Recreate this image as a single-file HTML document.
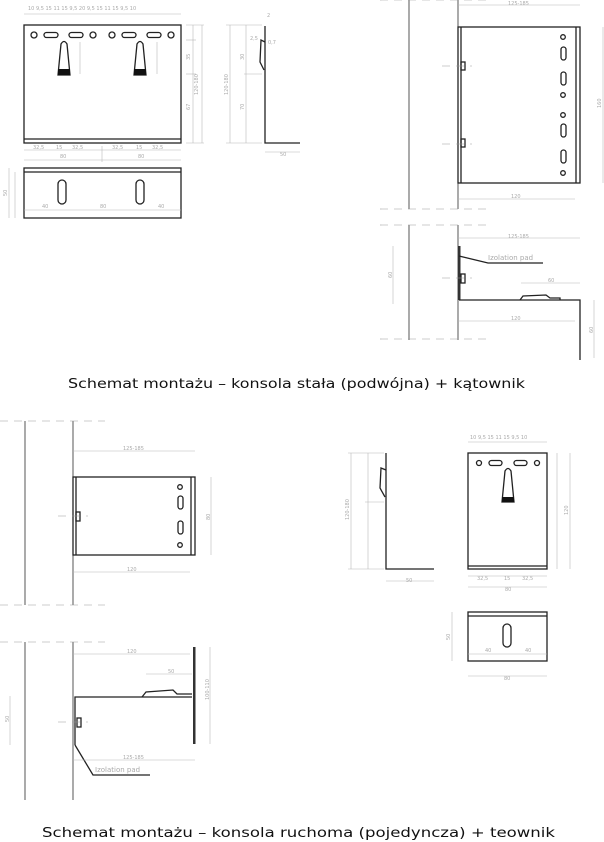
<!DOCTYPE html>
<html><head><meta charset="utf-8"><style>
html,body{margin:0;padding:0;background:#fff;}
svg{display:block;}
.d{stroke:#b8b8b8;stroke-width:0.6;fill:none}
.t{font-family:"DejaVu Sans","Liberation Sans",sans-serif;font-size:5px;fill:#aaa}
.k{stroke:#222;fill:none;stroke-width:1.3}
.w{stroke:#444;stroke-width:0.9;fill:none}
.dash{stroke:#999;stroke-width:0.6;stroke-dasharray:8,6;fill:none}
.title{font-family:"DejaVu Sans","Liberation Sans",sans-serif;font-size:13px;fill:#111}
</style></head><body>
<svg width="604" height="842" viewBox="0 0 604 842" xmlns="http://www.w3.org/2000/svg">
<!-- ===== TOP LEFT front view ===== -->
<g>
<rect x="24" y="25" width="157" height="118" class="k"/>
<line x1="24" y1="139" x2="181" y2="139" class="k" stroke-width="0.8"/>
<circle cx="34" cy="35" r="3" class="k" stroke-width="1"/>
<rect x="44" y="32.5" width="14" height="5" rx="2.5" class="k" stroke-width="1"/>
<rect x="69" y="32.5" width="14" height="5" rx="2.5" class="k" stroke-width="1"/>
<circle cx="93" cy="35" r="3" class="k" stroke-width="1"/>
<circle cx="112" cy="35" r="3" class="k" stroke-width="1"/>
<rect x="122" y="32.5" width="14" height="5" rx="2.5" class="k" stroke-width="1"/>
<rect x="147" y="32.5" width="14" height="5" rx="2.5" class="k" stroke-width="1"/>
<circle cx="171" cy="35" r="3" class="k" stroke-width="1"/>
<path d="M58 75 L61 44 Q64 39 67 44 L70 75 Z" class="k" stroke-width="1.1"/>
<rect x="58" y="69" width="12" height="6" fill="#111"/>
<path d="M134 75 L137 44 Q140 39 143 44 L146 75 Z" class="k" stroke-width="1.1"/>
<rect x="134" y="69" width="12" height="6" fill="#111"/>
<!-- dims top -->
<line x1="24" y1="14" x2="181" y2="14" class="d"/>
<text x="28" y="10" class="t">10  9,5  15   11   15  9,5   20   9,5  15   11   15  9,5 10</text>
<line x1="24" y1="150" x2="181" y2="150" class="d"/>
<line x1="24" y1="160" x2="181" y2="160" class="d"/>
<line x1="102" y1="146" x2="102" y2="162" class="d"/>
<text x="33" y="149" class="t">32,5</text><text x="56" y="149" class="t">15</text><text x="72" y="149" class="t">32,5</text>
<text x="112" y="149" class="t">32,5</text><text x="136" y="149" class="t">15</text><text x="152" y="149" class="t">32,5</text>
<text x="60" y="158" class="t">80</text><text x="138" y="158" class="t">80</text>
<line x1="193" y1="25" x2="193" y2="143" class="d"/>
<line x1="202" y1="25" x2="202" y2="143" class="d"/>
<line x1="186" y1="25" x2="204" y2="25" class="d"/><line x1="186" y1="143" x2="204" y2="143" class="d"/>
<line x1="186" y1="40" x2="196" y2="40" class="d"/><line x1="186" y1="74" x2="196" y2="74" class="d"/>
<text x="198" y="95" class="t" transform="rotate(-90 198 95)">120-180</text>
<text x="190" y="110" class="t" transform="rotate(-90 190 110)">67</text>
<text x="190" y="60" class="t" transform="rotate(-90 190 60)">35</text>
<line x1="80" y1="42" x2="80" y2="74" class="d"/><line x1="157" y1="42" x2="157" y2="74" class="d"/>
</g>
<!-- bottom view -->
<g>
<rect x="24" y="168" width="157" height="50" class="k"/>
<line x1="24" y1="172" x2="181" y2="172" class="k" stroke-width="0.8"/>
<rect x="58" y="180" width="8" height="24" rx="4" class="k" stroke-width="1.1"/>
<rect x="136" y="180" width="8" height="24" rx="4" class="k" stroke-width="1.1"/>
<line x1="24" y1="210" x2="181" y2="210" class="d"/>
<text x="42" y="208" class="t">40</text><text x="100" y="208" class="t">80</text><text x="158" y="208" class="t">40</text>
<line x1="9" y1="168" x2="9" y2="218" class="d"/><line x1="15" y1="172" x2="15" y2="218" class="d"/>
<text x="7" y="196" class="t" transform="rotate(-90 7 196)">50</text>
</g>
<!-- side profile -->
<g>
<path d="M265 26 L265 143 L300 143" class="k" stroke-width="2"/>
<path d="M265 42 L261 40 L260 62 L264 70" class="k" stroke-width="1"/>
<line x1="230" y1="25" x2="230" y2="143" class="d"/><line x1="246" y1="25" x2="246" y2="143" class="d"/>
<line x1="226" y1="25" x2="262" y2="25" class="d"/><line x1="226" y1="143" x2="262" y2="143" class="d"/>
<line x1="244" y1="74" x2="262" y2="74" class="d"/>
<text x="228" y="95" class="t" transform="rotate(-90 228 95)">120-180</text>
<text x="244" y="110" class="t" transform="rotate(-90 244 110)">70</text>
<text x="244" y="60" class="t" transform="rotate(-90 244 60)">30</text>
<line x1="265" y1="152" x2="300" y2="152" class="d"/><text x="280" y="156" class="t">50</text>
<text x="268" y="44" class="t">0,7</text><text x="250" y="40" class="t">2,5</text><text x="267" y="17" class="t">2</text>
</g>
<!-- ===== TOP RIGHT ===== -->
<g>
<line x1="409" y1="0" x2="409" y2="209" class="w"/>
<line x1="458" y1="0" x2="458" y2="209" class="w"/>
<line x1="380" y1="209" x2="490" y2="209" class="dash"/>
<rect x="458" y="27" width="122" height="156" class="k" stroke-width="1.2"/>
<line x1="461" y1="27" x2="461" y2="183" class="k" stroke-width="0.8"/>
<line x1="576" y1="27" x2="576" y2="183" class="k" stroke-width="0.8"/>
<rect x="461" y="62" width="4" height="8" class="k" stroke-width="0.8"/>
<rect x="461" y="139" width="4" height="8" class="k" stroke-width="0.8"/>
<line x1="442" y1="66" x2="472" y2="66" class="dash"/><line x1="442" y1="144" x2="472" y2="144" class="dash"/>
<circle cx="563" cy="37" r="2.3" class="k" stroke-width="1"/>
<rect x="561" y="47" width="5" height="13" rx="2.5" class="k" stroke-width="1"/>
<rect x="561" y="72" width="5" height="13" rx="2.5" class="k" stroke-width="1"/>
<circle cx="563" cy="95" r="2.3" class="k" stroke-width="1"/>
<circle cx="563" cy="115" r="2.3" class="k" stroke-width="1"/>
<rect x="561" y="124" width="5" height="13" rx="2.5" class="k" stroke-width="1"/>
<rect x="561" y="150" width="5" height="13" rx="2.5" class="k" stroke-width="1"/>
<circle cx="563" cy="173" r="2.3" class="k" stroke-width="1"/>
<line x1="458" y1="5" x2="580" y2="5" class="d"/><text x="508" y="5" class="t">125-185</text>
<line x1="458" y1="199" x2="575" y2="199" class="d"/><text x="511" y="198" class="t">120</text>
<line x1="603" y1="27" x2="603" y2="183" class="d"/><text x="601" y="108" class="t" transform="rotate(-90 601 108)">160</text>
<line x1="380" y1="0" x2="490" y2="0" class="dash"/>
</g>
<g>
<line x1="409" y1="225" x2="409" y2="340" class="w"/>
<line x1="458" y1="225" x2="458" y2="340" class="w"/>
<line x1="380" y1="225" x2="490" y2="225" class="dash"/>
<line x1="380" y1="339" x2="490" y2="339" class="dash"/>
<rect x="458" y="246" width="2.5" height="54" fill="#333"/>
<rect x="461" y="274" width="4" height="9" class="k" stroke-width="0.8"/>
<line x1="442" y1="278" x2="472" y2="278" class="dash"/>
<path d="M459 300 L580 300 L580 360" class="k" stroke-width="2"/>
<path d="M520 300 L523 296 L546 295 L550 298 L560 298 L560 300" class="k" stroke-width="1"/>
<path d="M459 256 L488 263 L543 263" class="k" stroke-width="0.9"/>
<text x="488" y="260" class="t" style="font-size:7px">Izolation pad</text>
<line x1="458" y1="238" x2="580" y2="238" class="d"/><text x="508" y="238" class="t">125-185</text>
<line x1="521" y1="283" x2="580" y2="283" class="d"/><text x="548" y="282" class="t">60</text>
<line x1="458" y1="321" x2="575" y2="321" class="d"/><text x="511" y="320" class="t">120</text>
<line x1="393" y1="246" x2="393" y2="304" class="d"/><text x="392" y="278" class="t" transform="rotate(-90 392 278)">60</text>
<line x1="594" y1="300" x2="594" y2="358" class="d"/><text x="593" y="333" class="t" transform="rotate(-90 593 333)">60</text>
</g>
<text x="68" y="388" class="title" textLength="457" lengthAdjust="spacingAndGlyphs">Schemat montażu – konsola stała (podwójna)  + kątownik</text>
<!-- ===== BOTTOM LEFT ===== -->
<g>
<line x1="25" y1="421" x2="25" y2="605" class="w"/>
<line x1="73" y1="421" x2="73" y2="605" class="w"/>
<line x1="0" y1="421" x2="105" y2="421" class="dash"/>
<line x1="0" y1="605" x2="105" y2="605" class="dash"/>
<rect x="73" y="477" width="122" height="78" class="k" stroke-width="1.2"/>
<line x1="76" y1="477" x2="76" y2="555" class="k" stroke-width="0.8"/>
<line x1="191" y1="477" x2="191" y2="555" class="k" stroke-width="0.8"/>
<rect x="76" y="512" width="4" height="9" class="k" stroke-width="0.8"/>
<line x1="58" y1="516" x2="88" y2="516" class="dash"/>
<circle cx="180" cy="487" r="2.3" class="k" stroke-width="1"/>
<rect x="178" y="496" width="5" height="13" rx="2.5" class="k" stroke-width="1"/>
<rect x="178" y="521" width="5" height="13" rx="2.5" class="k" stroke-width="1"/>
<circle cx="180" cy="545" r="2.3" class="k" stroke-width="1"/>
<line x1="73" y1="451" x2="195" y2="451" class="d"/><text x="123" y="450" class="t">125-185</text>
<line x1="73" y1="572" x2="190" y2="572" class="d"/><text x="127" y="571" class="t">120</text>
<line x1="211" y1="477" x2="211" y2="555" class="d"/><text x="210" y="520" class="t" transform="rotate(-90 210 520)">80</text>
</g>
<g>
<line x1="25" y1="642" x2="25" y2="800" class="w"/>
<line x1="73" y1="642" x2="73" y2="800" class="w"/>
<line x1="0" y1="642" x2="105" y2="642" class="dash"/>
<path d="M75 745 L75 697 L192 697" class="k" stroke-width="1.8"/>
<rect x="193" y="647" width="2.5" height="97" fill="#333"/>
<path d="M142 697 L146 692 L173 690 L177 694 L192 694" class="k" stroke-width="1"/>
<rect x="77" y="718" width="4" height="9" class="k" stroke-width="0.8"/>
<line x1="58" y1="722" x2="88" y2="722" class="dash"/>
<path d="M75 745 L93 775 L150 775" class="k" stroke-width="0.9"/>
<text x="95" y="772" class="t" style="font-size:7px">Izolation pad</text>
<line x1="73" y1="654" x2="190" y2="654" class="d"/><text x="127" y="653" class="t">120</text>
<line x1="146" y1="674" x2="192" y2="674" class="d"/><text x="168" y="673" class="t">50</text>
<line x1="73" y1="760" x2="195" y2="760" class="d"/><text x="123" y="759" class="t">125-185</text>
<line x1="210" y1="647" x2="210" y2="744" class="d"/><text x="209" y="700" class="t" transform="rotate(-90 209 700)">100-110</text>
<line x1="10" y1="696" x2="10" y2="745" class="d"/><text x="9" y="722" class="t" transform="rotate(-90 9 722)">50</text>
</g>
<!-- ===== BOTTOM RIGHT ===== -->
<g>
<path d="M386 453 L386 569 L434 569" class="k" stroke-width="2"/>
<path d="M386 470 L381 468 L380 488 L385 497" class="k" stroke-width="1"/>
<line x1="351" y1="453" x2="351" y2="569" class="d"/><line x1="368" y1="453" x2="368" y2="569" class="d"/>
<line x1="348" y1="453" x2="384" y2="453" class="d"/><line x1="348" y1="569" x2="384" y2="569" class="d"/>
<line x1="365" y1="502" x2="384" y2="502" class="d"/>
<text x="349" y="520" class="t" transform="rotate(-90 349 520)">120-180</text>
<line x1="386" y1="581" x2="434" y2="581" class="d"/><text x="406" y="582" class="t">50</text>
<rect x="468" y="453" width="79" height="116" class="k" stroke-width="1.2"/>
<line x1="468" y1="566" x2="547" y2="566" class="k" stroke-width="0.8"/>
<circle cx="479" cy="463" r="2.5" class="k" stroke-width="1"/>
<rect x="489" y="460.5" width="13" height="5" rx="2.5" class="k" stroke-width="1"/>
<rect x="514" y="460.5" width="13" height="5" rx="2.5" class="k" stroke-width="1"/>
<circle cx="537" cy="463" r="2.5" class="k" stroke-width="1"/>
<path d="M502 502 L505 471 Q508 466 511 471 L514 502 Z" class="k" stroke-width="1.1"/>
<rect x="502" y="497" width="12" height="5" fill="#111"/>
<line x1="468" y1="442" x2="547" y2="442" class="d"/>
<text x="470" y="439" class="t">10 9,5  15   11  15  9,5 10</text>
<line x1="468" y1="576" x2="547" y2="576" class="d"/><line x1="468" y1="587" x2="547" y2="587" class="d"/>
<text x="477" y="580" class="t">32,5</text><text x="504" y="580" class="t">15</text><text x="522" y="580" class="t">32,5</text>
<text x="505" y="591" class="t">80</text>
<line x1="570" y1="453" x2="570" y2="569" class="d"/><text x="568" y="515" class="t" transform="rotate(-90 568 515)">120</text>
<line x1="557" y1="453" x2="557" y2="569" class="d"/>
<rect x="468" y="612" width="79" height="49" class="k" stroke-width="1.2"/>
<line x1="468" y1="616" x2="547" y2="616" class="k" stroke-width="0.8"/>
<rect x="503" y="624" width="8" height="23" rx="4" class="k" stroke-width="1.1"/>
<line x1="468" y1="654" x2="547" y2="654" class="d"/>
<text x="485" y="652" class="t">40</text><text x="525" y="652" class="t">40</text>
<line x1="452" y1="612" x2="452" y2="661" class="d"/><text x="450" y="640" class="t" transform="rotate(-90 450 640)">50</text>
<line x1="468" y1="676" x2="547" y2="676" class="d"/><text x="504" y="680" class="t">80</text>
</g>
<text x="42" y="837" class="title" textLength="513" lengthAdjust="spacingAndGlyphs">Schemat montażu – konsola ruchoma (pojedyncza)  + teownik</text>
</svg>
</body></html>
